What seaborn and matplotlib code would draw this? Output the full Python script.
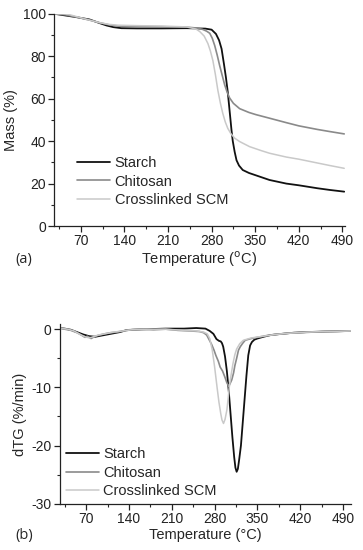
import numpy as np
import pandas as pd
import matplotlib
matplotlib.use("Agg")
import matplotlib.pyplot as plt
import seaborn as sns
from matplotlib.ticker import MultipleLocator

sns.set_theme(style="ticks")
plt.rcParams["font.family"] = ["Liberation Sans", "DejaVu Sans"]
plt.rcParams["axes.unicode_minus"] = False

# --- (a) TGA : masse (%) vs temperature ---
t_starch = [27, 45, 65, 84, 100, 111, 122, 135, 160, 200, 240, 270, 280, 287, 292, 296,
            300, 303, 306, 309, 312, 314, 317, 320, 324, 330, 340, 350, 373, 400, 420,
            450, 470, 493]
m_starch = [100, 99.2, 98.3, 97.3, 95.6, 94.5, 93.7, 93.2, 93.1, 93.1, 93.2, 93.0, 92.5,
            90.5, 87.5, 83.5, 76, 70, 63, 54, 45, 40, 35, 31, 28.5, 26.4, 25, 24, 21.7,
            20, 19.2, 17.8, 17, 16.2]

t_chito = [27, 45, 65, 84, 100, 115, 130, 160, 200, 240, 255, 265, 272, 277, 281, 285,
           289, 293, 297, 301, 305, 309, 315, 325, 340, 351, 373, 400, 420, 450, 470, 493]
m_chito = [100, 99.5, 98.3, 97, 95.8, 94.8, 94.2, 94.0, 93.9, 93.7, 93.3, 92.7, 91.8,
           90.8, 88.5, 85, 80.5, 75.5, 71, 66.5, 63, 60.3, 57.8, 55.3, 53.5, 52.5, 50.8,
           48.7, 47.2, 45.5, 44.5, 43.4]

t_scm = [27, 40, 50, 65, 84, 100, 115, 130, 160, 200, 240, 255, 261, 268, 274, 278, 282,
         286, 290, 294, 298, 302, 306, 311, 317, 325, 341, 360, 373, 400, 420, 450, 470, 493]
m_scm = [100, 100, 99.7, 98.5, 97, 95.8, 95, 94.6, 94.4, 94.2, 93.8, 92.8, 91.6, 89.5,
         86, 82.5, 78, 71.5, 64, 58, 53, 49, 46, 43.5, 41.4, 39.8, 37.4, 35.5, 34.3,
         32.5, 31.5, 29.7, 28.5, 27.2]

# --- (b) dTG (%/min) vs temperature ---
td_starch = [27, 35, 45, 55, 65, 75, 85, 95, 105, 115, 125, 135, 145, 170, 200, 230, 250,
             265, 272, 278, 283, 287, 290, 292, 294, 297, 300, 303, 306, 309, 312, 314,
             316, 318, 320, 323, 326, 329, 332, 335, 338, 341, 345, 350, 360, 372, 390,
             410, 430, 460, 503]
d_starch = [0.2, 0.1, -0.1, -0.5, -0.9, -1.2, -1.3, -1.1, -0.9, -0.7, -0.5, -0.2, -0.1,
            0, 0.1, 0.1, 0.2, 0.1, -0.3, -0.8, -1.7, -2.0, -2.1, -2.4, -3.0, -4.7, -7.2,
            -10.5, -14.5, -18.5, -22, -23.8, -24.5, -24, -22.5, -20, -16, -12, -8, -4.5,
            -2.8, -2.2, -1.8, -1.6, -1.3, -1.0, -0.8, -0.6, -0.5, -0.4, -0.3]

td_chito = [27, 35, 45, 55, 62, 68, 72, 78, 85, 92, 100, 110, 120, 130, 140, 160, 180,
            200, 220, 240, 255, 262, 267, 271, 275, 279, 282, 286, 289, 293, 297, 300,
            303, 305, 308, 311, 313, 316, 319, 322, 326, 330, 340, 350, 365, 380, 400,
            420, 440, 460, 480, 503]
d_chito = [0.2, 0, -0.2, -0.6, -1.0, -1.4, -1.2, -1.6, -1.2, -1.0, -0.8, -0.6, -0.5,
           -0.3, -0.1, 0, -0.1, 0, -0.2, -0.3, -0.4, -0.6, -1.0, -1.8, -2.6, -3.6, -4.5,
           -5.5, -6.5, -7.2, -8.3, -9.2, -9.8, -9.4, -8.7, -7.5, -6.3, -5, -3.6, -3.0,
           -2.4, -1.9, -1.6, -1.4, -1.1, -0.9, -0.7, -0.6, -0.5, -0.4, -0.4, -0.3]

td_scm = [27, 40, 50, 60, 68, 75, 82, 90, 100, 115, 130, 145, 170, 200, 230, 250, 262,
          268, 272, 276, 280, 284, 287, 290, 292, 294.5, 297, 300, 302, 304, 307, 310,
          313, 316, 321, 327, 340, 360, 380, 400, 430, 460, 503]
d_scm = [0.2, 0, -0.3, -0.9, -1.3, -1.5, -1.3, -1.0, -0.8, -0.5, -0.3, -0.1, 0, 0, -0.2,
         -0.3, -0.5, -0.8, -1.6, -3.5, -6.5, -10, -12.5, -14.5, -15.6, -16.2, -15.5,
         -13.9, -12, -9.9, -7.8, -5.9, -4.4, -3.4, -2.5, -1.9, -1.5, -1.2, -0.9, -0.7,
         -0.5, -0.4, -0.3]

noms = ["Starch", "Chitosan", "Crosslinked SCM"]
couleurs = {"Starch": "#111111", "Chitosan": "#8a8a8a", "Crosslinked SCM": "#c9c9c9"}
epaisseurs = {"Starch": 1.3, "Chitosan": 1.2, "Crosslinked SCM": 1.1}

tga = pd.concat([
    pd.DataFrame({"T": t_starch, "val": m_starch, "echantillon": "Starch"}),
    pd.DataFrame({"T": t_chito, "val": m_chito, "echantillon": "Chitosan"}),
    pd.DataFrame({"T": t_scm, "val": m_scm, "echantillon": "Crosslinked SCM"}),
])
dtg = pd.concat([
    pd.DataFrame({"T": td_starch, "val": d_starch, "echantillon": "Starch"}),
    pd.DataFrame({"T": td_chito, "val": d_chito, "echantillon": "Chitosan"}),
    pd.DataFrame({"T": td_scm, "val": d_scm, "echantillon": "Crosslinked SCM"}),
])

fig = plt.figure(figsize=(3.63, 5.5), dpi=100)
ax1 = fig.add_axes([0.149, 0.589, 0.801, 0.386])
ax2 = fig.add_axes([0.165, 0.084, 0.802, 0.327])


def tracer(ax, df):
    for nom in noms:
        sous = df[df["echantillon"] == nom]
        sns.lineplot(data=sous, x="T", y="val", ax=ax, color=couleurs[nom],
                     lw=epaisseurs[nom], label=nom, sort=False, estimator=None)


def habiller(ax, xlabel, ylabel):
    ax.xaxis.set_major_locator(MultipleLocator(70))
    ax.xaxis.set_minor_locator(MultipleLocator(35))
    ax.tick_params(which="major", direction="out", length=4, width=0.9,
                   labelsize=10, pad=2, colors="#222222")
    ax.tick_params(which="minor", direction="out", length=2, width=0.8)
    for s in ["top", "right"]:
        ax.spines[s].set_visible(False)
    for s in ["left", "bottom"]:
        ax.spines[s].set_linewidth(0.9)
        ax.spines[s].set_color("#222222")
    ax.set_xlabel(xlabel, fontsize=10.5, labelpad=1)
    ax.set_ylabel(ylabel, fontsize=10.5, labelpad=3)


def legende(ax, ancre):
    ax.legend(loc="lower left", bbox_to_anchor=ancre, frameon=False,
              fontsize=10.5, handlelength=2.25, handletextpad=0.3, labelspacing=0.3,
              borderpad=0, borderaxespad=0)


tracer(ax1, tga)
ax1.set_xlim(27, 494)
ax1.set_ylim(0, 100)
ax1.yaxis.set_major_locator(MultipleLocator(20))
ax1.yaxis.set_minor_locator(MultipleLocator(10))
habiller(ax1, r"Temperature ($^{\mathrm{o}}$C)", "Mass (%)")
legende(ax1, (0.08, 0.09))

tracer(ax2, dtg)
ax2.set_xlim(27, 503)
ax2.set_ylim(-30, 0.9)
ax2.yaxis.set_major_locator(MultipleLocator(10))
ax2.yaxis.set_minor_locator(MultipleLocator(5))
habiller(ax2, "Temperature (°C)", "dTG (%/min)")
legende(ax2, (0.02, 0.032))

fig.text(0.066, 1 - 260 / 550, "(a)", fontsize=10.5, ha="center", va="center",
         family=["Open Sans", "DejaVu Sans"])
fig.text(0.066, 1 - 535 / 550, "(b)", fontsize=10.5, ha="center", va="center",
         family=["Open Sans", "DejaVu Sans"])

fig.savefig("out.png", dpi=100)
